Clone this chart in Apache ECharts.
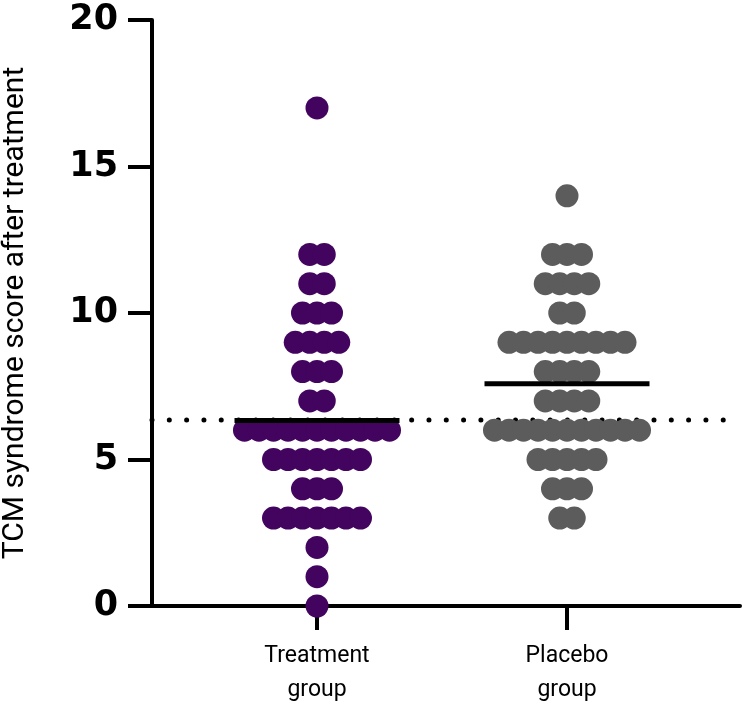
<!DOCTYPE html>
<html>
<head>
<meta charset="utf-8">
<script src="https://cdn.jsdelivr.net/npm/echarts@6/dist/echarts.min.js"></script>
<style>
  html, body { margin: 0; padding: 0; background: #fff; }
  #chart { width: 744px; height: 710px; }
</style>
</head>
<body>
<div id="chart"></div>
<script>
// score levels and how many patients sit on each one
const groupNames = ['Treatment\ngroup', 'Placebo\ngroup'];
const treatmentScores = [0, 1, 2, 3, 4, 5, 6, 7, 8, 9, 10, 11, 12, 17];
const treatmentCounts = [1, 1, 1, 7, 3, 7, 11, 2, 3, 4, 3, 2, 2, 1];
const placeboScores = [3, 4, 5, 6, 7, 8, 9, 10, 11, 12, 14];
const placeboCounts = [2, 3, 5, 11, 4, 4, 9, 2, 4, 3, 1];
const refLineValue = 6.35; // dotted line
const yTicks = [0, 5, 10, 15, 20];

const xMin = 0.34, xMax = 2.692;
const dotStep = 0.058; // horizontal step between neighbouring dots (x units)
const halfMean = 0.33;  // half width of the mean bar

// beeswarm: spread each row of equal scores around the group centre
function swarm(center, scores, counts){
  let pts = [];
  scores.forEach((s, i) => {
    let n = counts[i];
    for (let k = 0; k < n; k++) {
      pts.push([center + (k - (n - 1) / 2) * dotStep, s]);
    }
  });
  return pts;
}
function mean(scores, counts){
  let sum = 0, n = 0;
  scores.forEach((s, i) => { sum += s * counts[i]; n += counts[i]; });
  return sum / n;
}

const treatMean = mean(treatmentScores, treatmentCounts);
const placeboMean = mean(placeboScores, placeboCounts);

let chart = echarts.init(document.getElementById('chart'));
let option = {
  animation: false,
  backgroundColor: '#fff',
  grid: { left: 152, right: 4, top: 20, bottom: 104, outerBoundsMode: 'none', containLabel: false },
  xAxis: {
    type: 'value',
    min: xMin,
    max: xMax,
    splitLine: { show: false },
    axisLine: { show: true, onZero: false, lineStyle: { color: '#000', width: 4 } },
    axisTick: { show: true, customValues: [1, 2], length: 24, lineStyle: { color: '#000', width: 4 } },
    axisLabel: {
      customValues: [1, 2],
      formatter: v => groupNames[Math.round(v) - 1],
      color: '#000',
      fontFamily: 'Roboto',
      fontSize: 23,
      lineHeight: 34,
      margin: 33
    }
  },
  yAxis: {
    type: 'value',
    min: 0,
    max: 20,
    interval: 5,
    name: 'TCM syndrome score after treatment',
    nameLocation: 'middle',
    nameGap: 122,
    nameTextStyle: { color: '#000', fontFamily: 'Roboto', fontSize: 30 },
    splitLine: { show: false },
    axisLine: { show: true, lineStyle: { color: '#000', width: 4 } },
    axisTick: { show: true, length: 24, lineStyle: { color: '#000', width: 4 } },
    axisLabel: {
      color: '#000',
      fontFamily: 'DejaVu Sans',
      fontWeight: 900,
      fontSize: 35,
      margin: 34,
      formatter: v => yTicks.includes(v) ? String(v) : ''
    }
  },
  series: [
    {
      name: 'reference',
      type: 'line',
      z: 1,
      symbol: 'none',
      data: [[xMin, refLineValue], [xMax, refLineValue]],
      lineStyle: { color: '#000', width: 5, type: [0.01, 17.3], cap: 'round' }
    },
    {
      name: 'Treatment',
      type: 'scatter',
      z: 2,
      symbolSize: 23,
      data: swarm(1, treatmentScores, treatmentCounts),
      itemStyle: { color: '#42045e', opacity: 1 }
    },
    {
      name: 'Placebo',
      type: 'scatter',
      z: 2,
      symbolSize: 23,
      data: swarm(2, placeboScores, placeboCounts),
      itemStyle: { color: '#5c5c5c', opacity: 1 }
    },
    {
      name: 'Treatment mean',
      type: 'line',
      z: 3,
      symbol: 'none',
      data: [[1 - halfMean, treatMean], [1 + halfMean, treatMean]],
      lineStyle: { color: '#000', width: 5 }
    },
    {
      name: 'Placebo mean',
      type: 'line',
      z: 3,
      symbol: 'none',
      data: [[2 - halfMean, placeboMean], [2 + halfMean, placeboMean]],
      lineStyle: { color: '#000', width: 5 }
    }
  ]
};
chart.setOption(option);
</script>
</body>
</html>
